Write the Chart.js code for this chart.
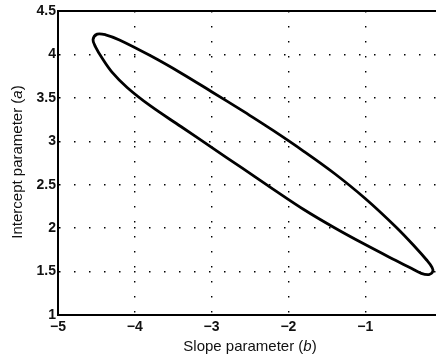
<!DOCTYPE html>
<html lang="en">
<head>
<meta charset="UTF-8">
<title>Slope vs intercept</title>
<script src="https://cdn.jsdelivr.net/npm/chart.js"></script>
<style>
  body { margin: 0; overflow: hidden; background: #fff; }
</style>
</head>
<body>
<canvas id="myChart" width="470" height="358"></canvas>
<script>
// ellipse outline, clockwise from the upper edge
const slopeB = [
  -2.6, -2.2, -1.8, -1.4, -1.0, -0.6, -0.35, -0.2, -0.13, -0.12, -0.17, -0.27, -0.4,
  -0.6, -1.0, -1.4, -1.8, -2.2, -2.6, -3.0, -3.4, -3.8, -4.1, -4.3, -4.42, -4.51,
  -4.544, -4.49, -4.38, -4.2, -3.8, -3.4, -3.0, -2.6
];
const interceptA = [
  3.353, 3.125, 2.885, 2.629, 2.341, 2.013, 1.783, 1.633, 1.549, 1.50, 1.466, 1.48, 1.537,
  1.627, 1.811, 2.005, 2.215, 2.45, 2.69, 2.93, 3.17, 3.41, 3.62, 3.80, 3.95, 4.085,
  4.17, 4.234, 4.226, 4.167, 3.987, 3.787, 3.571, 3.353
];
const xTicks = [-5, -4, -3, -2, -1, 0];
const yTicks = [1, 1.5, 2, 2.5, 3, 3.5, 4, 4.5];
const xTitle = [['Slope parameter (', false], ['b', true], [')', false]];
const yTitle = [['Intercept parameter (', false], ['a', true], [')', false]];

const points = slopeB.map((b, i) => ({ x: b, y: interceptA[i] }));

function font(italic) {
    return (italic ? 'italic ' : '') + '15px "Liberation Sans", Arial, sans-serif';
}

// draws a title made of parts, some italic, centred on (cx, cy)
function drawTitle(ctx, parts, cx, cy) {
    let total = 0;
    parts.forEach(p => { ctx.font = font(p[1]); total += ctx.measureText(p[0]).width; });
    let x = cx - total / 2;
    ctx.textBaseline = 'middle';
    ctx.textAlign = 'left';
    parts.forEach(p => {
        ctx.font = font(p[1]);
        ctx.fillText(p[0], x, cy);
        x += ctx.measureText(p[0]).width;
    });
}

const framePlugin = {
    id: 'frame',
    afterDraw(chart) {
        const { ctx, chartArea: a } = chart;
        ctx.save();
        ctx.strokeStyle = '#000';
        ctx.lineWidth = 2;
        ctx.beginPath();
        ctx.moveTo(a.left, a.top);
        ctx.lineTo(a.right, a.top);
        ctx.lineTo(a.right, a.bottom);
        ctx.stroke();

        ctx.fillStyle = '#111';
        drawTitle(ctx, xTitle, (a.left + a.right) / 2, 347);
        ctx.translate(18, 162);
        ctx.rotate(-Math.PI / 2);
        drawTitle(ctx, yTitle, 0, 0);
        ctx.restore();
    }
};

const tickFont = { family: '"Liberation Sans", Arial, sans-serif', size: 14, weight: 'bold' };

const ctx = document.getElementById('myChart').getContext('2d');
new Chart(ctx, {
    type: 'scatter',
    data: {
        datasets: [{
            data: points,
            showLine: true,
            borderColor: '#000',
            borderWidth: 2.8,
            pointRadius: 0,
            tension: 0.35,
            fill: false
        }]
    },
    options: {
        responsive: false,
        animation: false,
        layout: { padding: { left: 0, top: 11, right: 28, bottom: 0 } },
        plugins: { legend: { display: false }, tooltip: { enabled: false } },
        scales: {
            x: {
                type: 'linear',
                min: -5,
                max: 0,
                afterBuildTicks: axis => { axis.ticks = xTicks.map(v => ({ value: v })); },
                afterFit: axis => { axis.height = 43; },
                ticks: {
                    color: '#111',
                    font: tickFont,
                    padding: 4,
                    maxRotation: 0,
                    callback: v => String(v).replace('-', '\u2212')
                },
                grid: { color: '#000', lineWidth: 1.4, drawTicks: false },
                border: { display: true, color: '#000', width: 2, dash: [1.5, 13.5] }
            },
            y: {
                min: 1,
                max: 4.5,
                afterBuildTicks: axis => { axis.ticks = yTicks.map(v => ({ value: v })); },
                afterFit: axis => { axis.width = 58; },
                ticks: {
                    color: '#111',
                    font: tickFont,
                    padding: 2,
                    callback: v => String(v)
                },
                grid: { color: '#000', lineWidth: 1.4, drawTicks: false },
                border: { display: true, color: '#000', width: 2, dash: [1.5, 13.5] }
            }
        }
    },
    plugins: [framePlugin]
});
</script>
</body>
</html>
